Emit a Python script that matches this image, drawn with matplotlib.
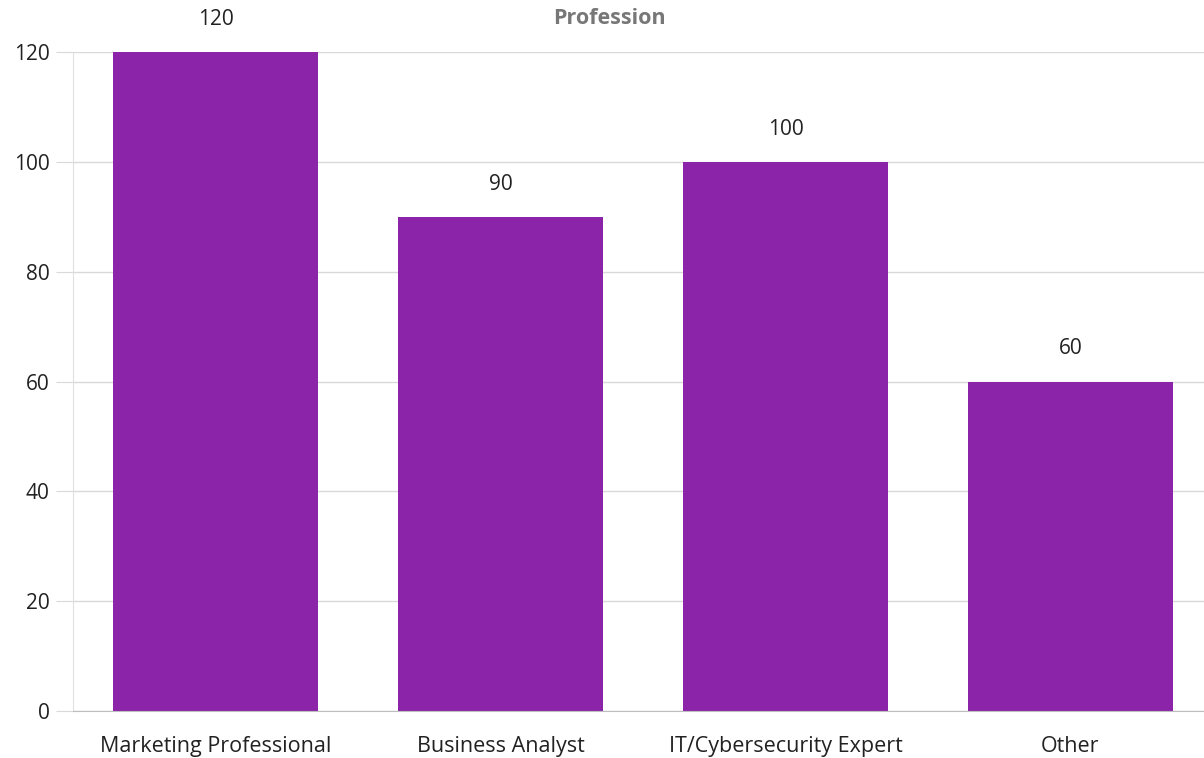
import matplotlib.pyplot as plt

# data
professions = ["Marketing Professional", "Business Analyst", "IT/Cybersecurity Expert", "Other"]
counts = [120, 90, 100, 60]
y_ticks = [0, 20, 40, 60, 80, 100, 120]

plt.rcParams['font.family'] = ['Open Sans', 'DejaVu Sans']

W, H = 1204, 758
fig = plt.figure(figsize=(W / 100, H / 100), dpi=100)
# axes spans x 73..1213 px, y 52..711 px (right band runs past image edge)
ax = fig.add_axes([73 / W, (H - 711) / H, (1213 - 73) / W, (711 - 52) / H])

x = range(len(professions))
bars = ax.bar(x, counts, width=0.72, color='#8b24a8', zorder=3)

ax.set_xlim(-0.5, len(professions) - 0.5)
ax.set_ylim(0, 120)
ax.set_yticks(y_ticks)
ax.set_xticks(list(x))
ax.set_xticklabels(professions)

ax.grid(axis='y', color='#d9d9d9', linewidth=1, zorder=0)
ax.tick_params(axis='y', length=12, color='#d9d9d9', labelsize=15, labelcolor='#222222', pad=5)
ax.tick_params(axis='x', length=0, labelsize=15.5, labelcolor='#222222', pad=18)

for side in ['top', 'right']:
    ax.spines[side].set_visible(False)
ax.spines['left'].set_color('#e0e0e0')
ax.spines['bottom'].set_color('#bdbdbd')
ax.spines['left'].set_zorder(4)
ax.spines['bottom'].set_zorder(4)

# value labels above bars
for b, v in zip(bars, counts):
    ax.annotate(str(v), (b.get_x() + b.get_width() / 2, v), xytext=(0, 23.5),
                textcoords='offset points', ha='center', va='center',
                fontsize=15, color='#222222', annotation_clip=False)

fig.text(609 / W, 1 - 18 / H, "Profession", ha='center', va='center',
         fontsize=15.5, fontweight='bold', color='#777777')

fig.savefig('out.png', dpi=100)
